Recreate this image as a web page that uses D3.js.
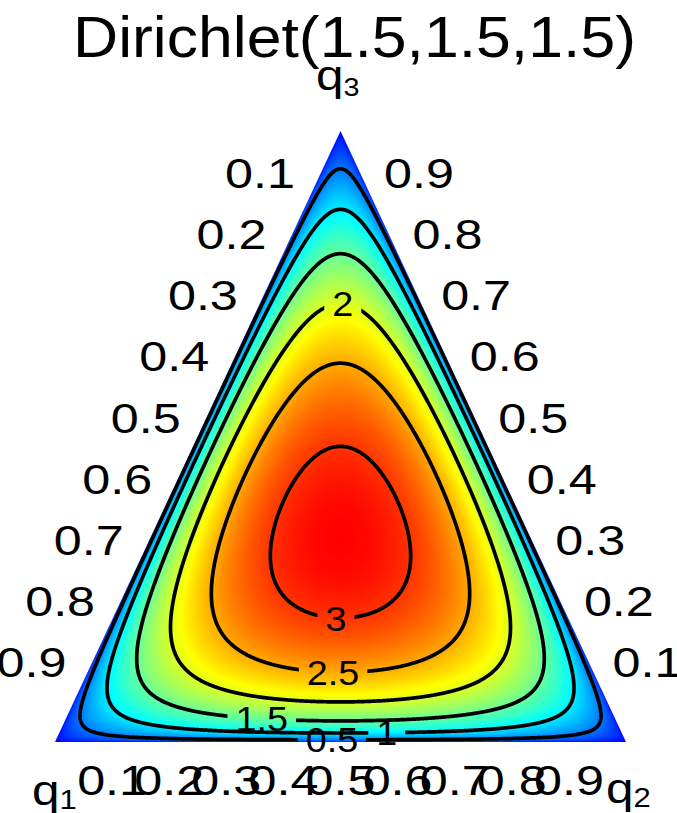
<!DOCTYPE html>
<html>
<head>
<meta charset="utf-8">
<script src="https://cdn.jsdelivr.net/npm/d3@7"></script>
<style>
  body { margin: 0; background: #fff; }
  svg { display: block; font-family: "Liberation Sans", Arial, sans-serif; }
</style>
</head>
<body>
<svg id="chart" width="677" height="813"></svg>
<script>
// Dirichlet parameters
const alpha = [1.5, 1.5, 1.5];
// density levels drawn as black contour lines
const contourLevels = [0.5, 1, 1.5, 2, 2.5, 3];
// tick values on every side of the triangle
const tickValues = [0.1, 0.2, 0.3, 0.4, 0.5, 0.6, 0.7, 0.8, 0.9];
// vertex names (q + subscript)
const axisSubs = ["1", "2", "3"];
// inline contour labels: level, place along the bottom axis, which crossing
const labelSpots = [
    { level: 2,   u: 0.504, side: "top" },
    { level: 3,   u: 0.492, side: "bottom" },
    { level: 2.5, u: 0.487, side: "bottom" },
    { level: 1.5, u: 0.362, side: "bottom" },
    { level: 0.5, u: 0.485, side: "bottom" },
    { level: 1,   u: 0.581, side: "bottom" }
];

const W = 677, H = 813;
const svg = d3.select("#chart");

// u = q2 + q3/2 runs along the bottom side, q3 goes up
const xScale = d3.scaleLinear().domain([0, 1]).range([55, 626]);
const yScale = d3.scaleLinear().domain([0, 1]).range([742, 131]);
const project = (q1, q2, q3) => [xScale(q2 + q3 / 2), yScale(q3)];
const corners = [project(1, 0, 0), project(0, 1, 0), project(0, 0, 1)];

function gamma(z) {
    const p = [0.99999999999980993, 676.5203681218851, -1259.1392167224028,
        771.32342877765313, -176.61502916214059, 12.507343278686905,
        -0.13857109526572012, 9.9843695780195716e-6, 1.5056327351493116e-7];
    if (z < 0.5) return Math.PI / (Math.sin(Math.PI * z) * gamma(1 - z));
    z -= 1;
    let x = p[0];
    for (let i = 1; i < 9; i++) x += p[i] / (z + i);
    const t = z + 7.5;
    return Math.sqrt(2 * Math.PI) * Math.pow(t, z + 0.5) * Math.exp(-t) * x;
}

const normConst = gamma(d3.sum(alpha)) / alpha.reduce((p, a) => p * gamma(a), 1);

function density(q1, q2, q3) {
    if (q1 <= 0 || q2 <= 0 || q3 <= 0) return 0;
    return normConst * Math.pow(q1, alpha[0] - 1) * Math.pow(q2, alpha[1] - 1) * Math.pow(q3, alpha[2] - 1);
}

function densityAt(x, y) {
    const q3 = yScale.invert(y);
    const q2 = xScale.invert(x) - q3 / 2;
    return density(1 - q2 - q3, q2, q3);
}

// mode of the distribution gives the top of the colour range
const aSum = d3.sum(alpha);
const mode = alpha.map(a => (a - 1) / (aSum - alpha.length));
const fMax = density(...mode);

const color = d3.scaleLinear()
    .domain([0, fMax / 3, 2 * fMax / 3, fMax])
    .range(["#0000ff", "#00ffff", "#ffff00", "#ff0000"])
    .clamp(true);
const lut = d3.range(1024).map(i => d3.rgb(color(i / 1023 * fMax)));

// ---- heat map on a canvas, placed in the svg as an image
const canvas = document.createElement("canvas");
canvas.width = W;
canvas.height = H;
const ctx = canvas.getContext("2d");
const img = ctx.createImageData(W, H);
for (let y = 125; y < 748; y++) {
    for (let x = 48; x < 634; x++) {
        const f = densityAt(x + 0.5, y + 0.5);
        const c = lut[Math.max(0, Math.min(1023, Math.round(f / fMax * 1023)))];
        const k = (y * W + x) * 4;
        img.data[k] = c.r;
        img.data[k + 1] = c.g;
        img.data[k + 2] = c.b;
        img.data[k + 3] = 255;
    }
}
ctx.putImageData(img, 0, 0);

const defs = svg.append("defs");
defs.append("clipPath").attr("id", "tri")
    .append("polygon")
    .attr("points", corners.map(p => p.join(",")).join(" "));

svg.append("image")
    .attr("x", 0).attr("y", 0)
    .attr("width", W).attr("height", H)
    .attr("href", canvas.toDataURL())
    .attr("clip-path", "url(#tri)");

// ---- contour lines
const s = 0.5;
const gx0 = 48, gy0 = 124;
const gw = Math.ceil(588 / s), gh = Math.ceil(626 / s);
const values = new Float64Array(gw * gh);
for (let j = 0; j < gh; j++) {
    for (let i = 0; i < gw; i++) {
        values[j * gw + i] = densityAt(gx0 + (i + 0.5) * s, gy0 + (j + 0.5) * s);
    }
}
const contours = d3.contours().size([gw, gh]).thresholds(contourLevels)(values);
const toScreen = d3.geoTransform({
    point(x, y) { this.stream.point(gx0 + x * s, gy0 + y * s); }
});
const path = d3.geoPath(toScreen);

// find where a level crosses the vertical line at u
function labelPoint(spot) {
    const q3max = 2 * Math.min(spot.u, 1 - spot.u);
    const f = q3 => density(1 - spot.u - q3 / 2, spot.u - q3 / 2, q3);
    let peak = 0, best = -1;
    for (let k = 1; k < 400; k++) {
        const q3 = q3max * k / 400;
        if (f(q3) > best) { best = f(q3); peak = q3; }
    }
    let lo = spot.side === "bottom" ? 0 : peak;
    let hi = spot.side === "bottom" ? peak : q3max;
    for (let k = 0; k < 60; k++) {
        const mid = (lo + hi) / 2;
        const above = f(mid) > spot.level;
        if (spot.side === "bottom") { if (above) hi = mid; else lo = mid; }
        else { if (above) lo = mid; else hi = mid; }
    }
    const q3 = (lo + hi) / 2;
    return [xScale(spot.u), yScale(q3)];
}

const labelSX = 1.08;
const labelG = svg.append("g").attr("class", "contour-labels");
const labelBoxes = labelSpots.map(spot => {
    const [x, y] = labelPoint(spot);
    const t = labelG.append("text")
        .attr("transform", `translate(${x},${y}) scale(${labelSX},1)`)
        .attr("text-anchor", "middle")
        .attr("dy", "0.36em")
        .attr("font-size", 35)
        .attr("fill", "#000")
        .text(d3.format("~g")(spot.level));
    const w = t.node().getComputedTextLength() * labelSX;
    return { level: spot.level, x: x - w / 2 - 8, y: y - 15, w: w + 16, h: 30 };
});

const lineG = svg.insert("g", ".contour-labels");
contours.forEach((c, i) => {
    const m = defs.append("mask").attr("id", "m" + i)
        .attr("maskUnits", "userSpaceOnUse")
        .attr("x", 0).attr("y", 0).attr("width", W).attr("height", H);
    m.append("rect").attr("width", W).attr("height", H).attr("fill", "#fff");
    labelBoxes.filter(b => b.level === c.value).forEach(b => {
        m.append("rect").attr("x", b.x).attr("y", b.y)
            .attr("width", b.w).attr("height", b.h).attr("fill", "#000");
    });
    lineG.append("path")
        .attr("d", path(c))
        .attr("fill", "none")
        .attr("stroke", "#000")
        .attr("stroke-width", 3.7)
        .attr("stroke-linejoin", "round")
        .attr("mask", `url(#m${i})`);
});

// ---- tick labels
const tickSX = 1.17;
const fmt = d3.format(".1f");
const ticks = svg.append("g").attr("font-size", 43).attr("fill", "#000");

// left side: q1
tickValues.forEach(v => {
    const [x, y] = project(v, 0, 1 - v);
    ticks.append("text")
        .attr("transform", `translate(${x - 17},${y - 4}) scale(${tickSX},1)`)
        .attr("text-anchor", "end")
        .text(fmt(v));
});
// right side: q3
tickValues.forEach(v => {
    const [x, y] = project(0, 1 - v, v);
    ticks.append("text")
        .attr("transform", `translate(${x + 15},${y - 4}) scale(${tickSX},1)`)
        .attr("text-anchor", "start")
        .text(fmt(v));
});
// bottom side: q2
tickValues.forEach(v => {
    const [x] = project(1 - v, v, 0);
    ticks.append("text")
        .attr("transform", `translate(${x},795) scale(${tickSX},1)`)
        .attr("text-anchor", "middle")
        .text(fmt(v));
});

// ---- vertex names
const namePos = [[32, 805], [606, 803], [316, 90]];
const subSize = [27, 27, 25];
axisSubs.forEach((sub, i) => {
    const t = svg.append("text")
        .attr("transform", `translate(${namePos[i][0]},${namePos[i][1]}) scale(1.15,1)`)
        .attr("font-size", 43);
    t.append("tspan").text("q");
    t.append("tspan").attr("font-size", subSize[i]).attr("dy", i === 2 ? 6 : 4).text(sub);
});

// ---- title
svg.append("text")
    .attr("x", 354.5)
    .attr("y", 57)
    .attr("text-anchor", "middle")
    .attr("font-size", 57)
    .attr("textLength", 563)
    .attr("lengthAdjust", "spacingAndGlyphs")
    .text(`Dirichlet(${alpha.join(",")})`);
</script>
</body>
</html>
